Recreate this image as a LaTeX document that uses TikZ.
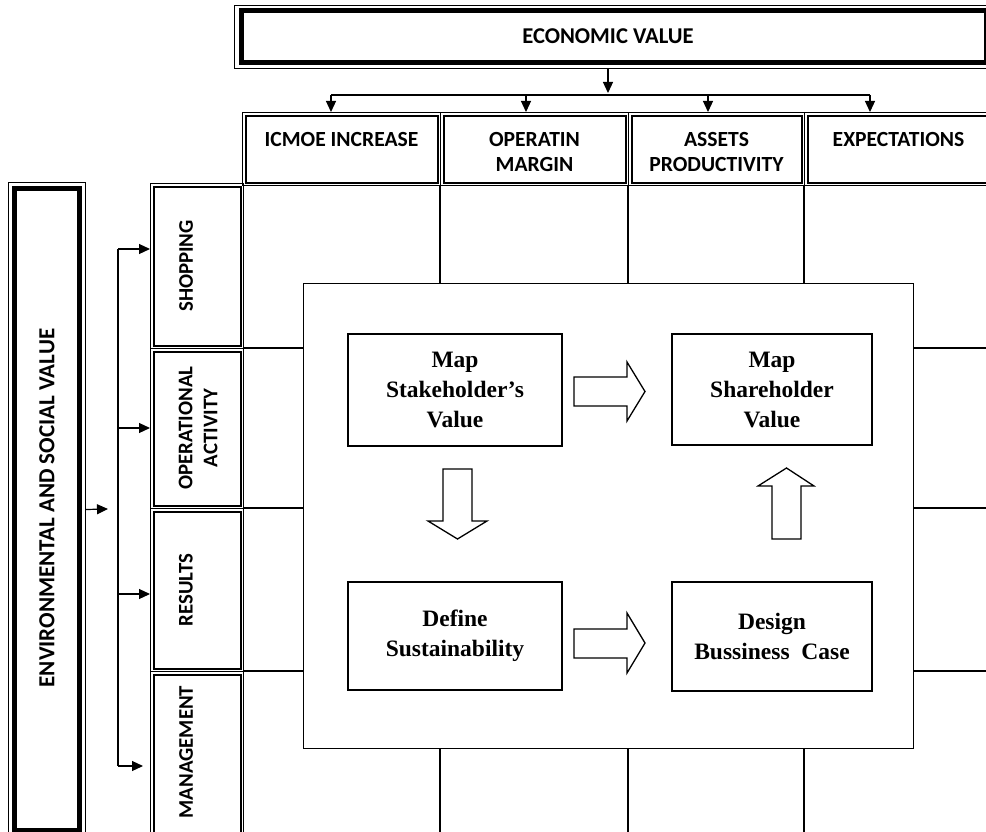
\documentclass[tikz,border=0pt]{standalone}
\usepackage{fontspec}
\setmainfont{Liberation Serif}
\setsansfont{Carlito}
\usetikzlibrary{arrows.meta}

\tikzset{
  thinframe/.style={draw,line width=1pt,inner sep=0pt,anchor=north west},
  caps/.style={font=\sffamily\bfseries\fontsize{#1}{25}\selectfont,align=center,inner sep=0pt},
  caps/.default=21.6,
  stagebox/.style={draw,line width=1.3pt,fill=white,inner sep=0pt,align=center,
    font=\bfseries\fontsize{23.5}{30}\selectfont},
  link/.style={line width=1.2pt,-{Triangle[length=11pt,width=10pt]}},
  gridline/.style={line width=1.2pt},
  blockarrow/.style={draw,line width=1.3pt,fill=white,line join=miter}
}

\begin{document}
\begin{tikzpicture}[x=1pt,y=-1pt]
  \useasboundingbox (0,0) rectangle (986,832);
  \clip (0,0) rectangle (986,832);

  % grid behind the core box
  \foreach \x in {440,628,804}
    \draw[gridline] (\x,185) -- (\x,840);
  \foreach \y in {348,508,671}
    \draw[gridline] (243,\y) -- (992,\y);

  % economic value
  \node[thinframe,minimum width=758pt,minimum height=63pt] (ev) at (234,5) {};
  \draw[line width=5pt] ([shift={(7,6)}]ev.north west) rectangle ([shift={(-7,-6)}]ev.south east);
  \node[caps=22.6] (evtext) at (608,36) {ECONOMIC VALUE};

  % header cells
  \node[thinframe,minimum width=198pt,minimum height=73pt] (h1) at (242,112) {};
  \node[thinframe,minimum width=188pt,minimum height=73pt] (h2) at (440,112) {};
  \node[thinframe,minimum width=176pt,minimum height=73pt] (h3) at (628,112) {};
  \node[thinframe,minimum width=188pt,minimum height=73pt] (h4) at (804,112) {};
  \foreach \h in {h1,h2,h3,h4}
    \draw[line width=2pt] ([shift={(4,4)}]\h.north west) rectangle ([shift={(-3,-3)}]\h.south east);
  \node[caps,anchor=north] at ([yshift=-20pt]h1.north) {ICMOE INCREASE};
  \node[caps,anchor=north] at ([yshift=-20pt]h2.north) {OPERATIN\\MARGIN};
  \node[caps,anchor=north] at ([yshift=-20pt]h3.north) {ASSETS\\PRODUCTIVITY};
  \node[caps,anchor=north] at ([yshift=-20pt]h4.north) {EXPECTATIONS};

  \coordinate (bus) at (608,95);
  \draw[link] (ev.south -| bus) -- ([yshift=2pt]bus);
  \draw[gridline] (331,95) -- (870,95);
  \foreach \x/\h in {331/h1,526/h2,708/h3,870/h4}
    \draw[link] (\x,95) -- (\h.north -| \x,0);

  % environmental and social value
  \node[thinframe,minimum width=77pt,minimum height=654pt] (env) at (8,182) {};
  \draw[line width=5pt] ([shift={(6.5,7)}]env.north west) rectangle ([shift={(-6.5,-7)}]env.south east);
  \node[caps=23,rotate=90] at (47,508) {ENVIRONMENTAL AND SOCIAL VALUE};

  % row cells
  \node[thinframe,minimum width=93pt,minimum height=165pt] (shop) at (150,183) {};
  \node[thinframe,minimum width=93pt,minimum height=160pt] (oper) at (150,348) {};
  \node[thinframe,minimum width=93pt,minimum height=163pt] (res) at (150,508) {};
  \node[thinframe,minimum width=93pt,minimum height=167pt] (mgmt) at (150,671) {};
  \foreach \r in {shop,oper,res,mgmt}
    \draw[line width=2pt] ([shift={(4,4)}]\r.north west) rectangle ([shift={(-3,-3)}]\r.south east);
  \node[caps=20.8,rotate=90] at (186,266) {SHOPPING};
  \node[caps=20.8,rotate=90] at (198,428) {OPERATIONAL\\ACTIVITY};
  \node[caps=20.8,rotate=90] at (186,590) {RESULTS};
  \node[caps=20.8,rotate=90] at (186,752) {MANAGEMENT};

  \coordinate (spine) at (118,509);
  \draw[link] (env.east) -- ([xshift=-10pt]spine);
  \draw[gridline] (118,249) -- (118,766);
  \draw[link] (118,249) -- (shop.west |- 0,249);
  \draw[link] (118,428) -- (oper.west |- 0,428);
  \draw[link] (118,594) -- (res.west |- 0,594);
  \draw[link] (118,766) -- ([xshift=-7pt]mgmt.west |- 0,766);

  % core box
  \node[thinframe,line width=1.3pt,fill=white,minimum width=610pt,minimum height=465pt] (core) at (303,283) {};

  \node[stagebox,minimum width=214pt,minimum height=112pt] (stake) at (455,390) {Map\\Stakeholder’s\\Value};
  \node[stagebox,minimum width=200pt,minimum height=111pt] (share) at (772,389.5) {Map\\Shareholder\\Value};
  \node[stagebox,minimum width=214pt,minimum height=108pt] (define) at (455,636) {Define\\Sustainability};
  \node[stagebox,minimum width=200pt,minimum height=109pt] (design) at (772,636.5) {Design\\Bussiness~ Case};

  % block arrows
  \draw[blockarrow] (574,377) -- (627,377) -- (627,362) -- (645,391.5) -- (627,421) -- (627,406) -- (574,406) -- cycle;
  \draw[blockarrow] (443,469) -- (472,469) -- (472,521) -- (487,521) -- (457.5,539) -- (428,521) -- (443,521) -- cycle;
  \draw[blockarrow] (772,539) -- (801,539) -- (801,486) -- (814,486) -- (786.5,468) -- (758,486) -- (772,486) -- cycle;
  \draw[blockarrow] (574,629) -- (627,629) -- (627,613) -- (645,643) -- (627,673) -- (627,658) -- (574,658) -- cycle;
\end{tikzpicture}
\end{document}
